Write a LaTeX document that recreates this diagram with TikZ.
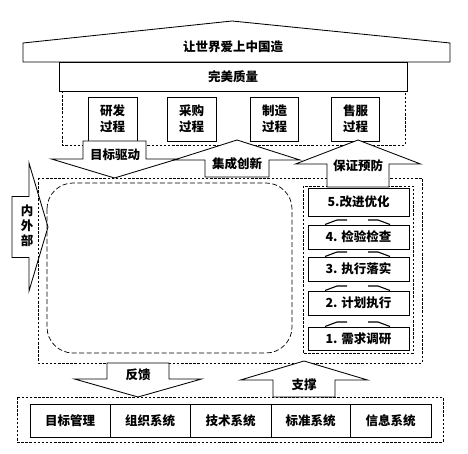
\documentclass[tikz,border=0pt]{standalone}
\usepackage{fontspec}
\setmainfont{Noto Sans CJK SC}
\newcommand{\blkarrowv}[7]{%
  % name, cx, tip, base, half head, half shaft, end
  \draw[blk] (#2,#3) -- ({#2+#5},#4) -- ({#2+#6},#4) -- ({#2+#6},#7)
    -- ({#2-#6},#7) -- ({#2-#6},#4) -- ({#2-#5},#4) -- cycle;
  \coordinate (#1) at (#2,{(#4+#7)/2});}
\begin{document}
\begin{tikzpicture}[x=1pt,y=-1pt,
  every node/.style={font=\fontsize{12.5}{16}\selectfont\bfseries, inner sep=0pt, align=center},
  box/.style={draw, fill=white, line width=0.85pt},
  dbox/.style={draw, dash pattern=on 2.5pt off 1.6pt, line width=0.6pt},
  rbox/.style={draw, dash pattern=on 5pt off 2.5pt, line width=0.7pt, rounded corners=26pt},
  blk/.style={draw, fill=white, line width=0.85pt, line join=miter},
  wing/.style={line width=1.1pt}]
\useasboundingbox (0,0) rectangle (468,454);
\fill[white] (0,0) rectangle (468,454);

% roof
\draw[blk] (23,62) -- (23,43) -- (232,21) -- (450,43) -- (450,62) -- cycle;
\node (roof) at (233,47) {让世界爱上中国造};
\node[box, minimum width=348pt, minimum height=29pt] (qual) at (233,76.5) {完美质量};

% process layer
\draw[dbox] (62,91) rectangle (405,145);
\node[box, minimum width=49pt, minimum height=44pt] (p1) at (112.5,119) {研发\\过程};
\node[box, minimum width=49pt, minimum height=44pt] (p2) at (191.5,119) {采购\\过程};
\node[box, minimum width=48pt, minimum height=44pt] (p3) at (274.5,119) {制造\\过程};
\node[box, minimum width=48pt, minimum height=44pt] (p4) at (355.5,119) {售服\\过程};

% left arrow (drawn before dashed boxes)
\draw[blk] (48,227) -- (29,163) -- (29,196.5) -- (12,196.5) -- (12,257.5)
  -- (29,257.5) -- (29,291) -- cycle;
\node (nw) at (27,226) {内\\[-1pt]外\\[-1pt]部};

% main area
\draw[dbox] (38,178) rectangle (422,363);
\draw[rbox] (47,183) rectangle (292,353);
\draw[dbox] (303,186) rectangle (413,353);

% upper arrows
\blkarrowv{a1}{114.5}{178}{159}{63}{31.5}{141}
\blkarrowv{a2}{237}{140}{160}{63}{32}{177}
\blkarrowv{a3}{358}{140}{164}{62.5}{31}{187}
\node at (115,155) {目标驱动};
\node at (237,164) {集成创新};
\node at (358,166) {保证预防};

% steps
\node[box, minimum width=101pt, minimum height=28pt] (s5) at (358.5,202) {5.改进优化};
\node[box, minimum width=101pt, minimum height=24pt] (s4) at (358.5,237) {4. 检验检查};
\node[box, minimum width=101pt, minimum height=24pt] (s3) at (358.5,269) {3. 执行落实};
\node[box, minimum width=101pt, minimum height=24pt] (s2) at (358.5,303) {2. 计划执行};
\node[box, minimum width=101pt, minimum height=23pt] (s1) at (358.5,338.5) {1. 需求调研};
\foreach \t/\b in {216/225, 249/257, 281/291, 315/327}{
  \draw[wing] (325,\b-0.5) -- (337,\b-5) -- (347,\b-5);
  \draw[wing] (368,\b-5) -- (378,\b-5) -- (390,\b-0.5);
}

% lower arrows
\blkarrowv{a4}{138}{397}{379}{63.5}{31}{363}
\blkarrowv{a5}{304}{361}{380}{63.5}{31}{397}
\node at (138,375) {反馈};
\node at (304,385) {支撑};

% base
\draw[dbox] (17,397) rectangle (443,442);
\node[box, minimum width=80pt, minimum height=33pt] (b1) at (70,420.5) {目标管理};
\node[box, minimum width=80pt, minimum height=33pt] (b2) at (150,420.5) {组织系统};
\node[box, minimum width=81pt, minimum height=33pt] (b3) at (230.5,420.5) {技术系统};
\node[box, minimum width=79pt, minimum height=33pt] (b4) at (310.5,420.5) {标准系统};
\node[box, minimum width=81pt, minimum height=33pt] (b5) at (390.5,420.5) {信息系统};
\end{tikzpicture}
\end{document}
